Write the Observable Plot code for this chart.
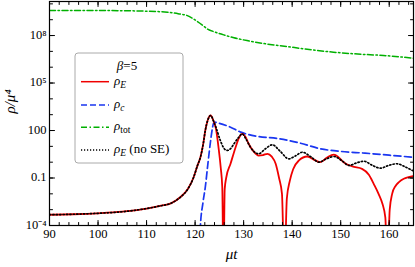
<!DOCTYPE html>
<html><head><meta charset="utf-8">
<script src="https://cdn.jsdelivr.net/npm/d3@7"></script>
<script src="https://cdn.jsdelivr.net/npm/@observablehq/plot@0.6"></script>
<style>
body{margin:0;background:#fff}
#chart{width:415px;height:267px}
#chart svg, #chart svg text, #chart svg tspan { font-family: "Liberation Serif", "Times New Roman", serif !important; }
</style>
</head><body><div id="chart"></div>
<script>
// ---- data (values as log10 of rho/mu^4) ----
const rhoE_t   = [90,95,100,105,110,113,115,117,118.5,119.7,120.5,121.1,121.7,122.1,122.6,123.2,123.8,124.3,124.8,125.3,125.6,125.85,126.1,126.4,127.3,128.3,129.0,129.7,130.4,131,132,133.1,134.0,134.9,135.8,136.6,137.3,137.9,138.4,138.9,139.5,140.2,141.4,143.1,144.8,145.8,147.2,148.6,149.6,150.6,152.4,154.4,155.8,156.8,157.8,158.6,159.2,159.6,160.1,160.6,161.3,162,163,164,165];
const rhoE_log = [-3.32,-3.29,-3.23,-3.13,-2.93,-2.75,-2.6,-2.2,-1.7,-0.95,-0.2,0.31,1.2,2.0,2.65,2.95,2.6,2.1,1.0,-0.4,-1.6,-7,-1.7,-1.0,-0.1,0.9,1.5,1.79,1.6,1.18,0.7,0.42,0.45,0.53,0.35,-0.1,-1.0,-2.0,-7,-2.3,-1.2,-0.45,0.11,0.36,0.11,0.0,0.3,0.48,0.3,0.0,-0.27,-0.42,-0.8,-1.37,-2.0,-2.63,-3.5,-7,-3.0,-2.0,-1.5,-1.26,-1.05,-0.95,-0.88];

const noSE_t   = [90,95,100,105,110,113,115,117,118.5,119.7,120.5,121.1,121.7,122.1,122.6,123.2,123.8,124.3,125.2,125.9,126.6,127.3,128,129,129.7,130.5,131.4,132.2,133.1,134.5,135.9,137.5,139.3,140.7,142.1,143.8,145.5,147.0,148.6,150.2,151.7,153.2,154.8,156.5,158.2,159.9,161.6,163.3,165];
const noSE_log = [-3.32,-3.29,-3.23,-3.13,-2.93,-2.75,-2.6,-2.2,-1.7,-0.95,-0.2,0.31,1.2,2.0,2.65,2.95,2.6,2.2,1.37,0.9,0.74,0.85,1.16,1.58,1.79,1.45,0.95,0.65,0.53,0.85,1.1,0.7,0.21,0.4,0.63,0.35,0.0,0.2,0.36,0.1,-0.21,-0.05,0.06,-0.2,-0.38,-0.2,-0.1,-0.3,-0.56];

const rhoC_t   = [120.8,121.1,121.6,122.1,122.6,123.2,123.6,123.9,125,127.3,129.4,133,137,141.7,145.8,150,155,160,165];
const rhoC_log = [-7,-4.0,-2.6,-1.58,-0.2,1.37,2.2,2.53,2.45,2.21,1.9,1.62,1.5,1.2,0.85,0.68,0.57,0.44,0.31];

const rhoTot_t   = [90,100,110,114.3,116.5,118.4,120.4,121.5,122.5,124.2,125.9,128,130.7,134,139,143.5,148.5,153.5,158.8,165];
const rhoTot_log = [9.58,9.58,9.54,9.47,9.38,9.26,8.9,8.66,8.42,8.21,8.04,7.86,7.68,7.5,7.3,7.12,6.95,6.83,6.74,6.57];

const xMajor = [90,100,110,120,130,140,150,160];
const xMinor = d3.range(90,165,2);
const yMajor = [1e-4,1e-1,1e2,1e5,1e8];
const yMajorLabels = ["10\u207B\u2074","0.1","100","10\u2075","10\u2078"];
const yMinor = d3.range(-4,11).map(e => 10**e);

const toRows = (t, l) => t.map((x,i) => ({x, y: 10**l[i]}));
const red = "#f00000", blue = "#1a36f0", green = "#00b000";
const xDom = [90,165], yDom = [1e-4, 10**10.15];

const tickShape = {draw(ctx, l){ ctx.moveTo(0,0); ctx.lineTo(0,-l); }};
const ticks = (vals, pos, len, rot) => Plot.vector(vals, {
  x: pos === "x" ? d => d : (rot === 90 ? () => xDom[0] : () => xDom[1]),
  y: pos === "y" ? d => d : (rot === 0 ? () => yDom[0] : () => yDom[1]),
  length: len, rotate: rot, anchor: "start", shape: tickShape, stroke: "black", strokeWidth: 1
});
const yMinorIn = yMinor.filter(v => v <= yDom[1]);

const plot = Plot.plot({
  width: 415, height: 267,
  marginLeft: 49, marginRight: 2, marginTop: 1, marginBottom: 42,
  style: {fontFamily: "Liberation Serif, Times New Roman, serif", fontSize: "12px", background: "white", color: "black"},
  x: {domain: xDom},
  y: {type: "log", domain: yDom},
  marks: [
    Plot.line(toRows(rhoTot_t, rhoTot_log), {x: "x", y: "y", stroke: green, strokeWidth: 1.5, strokeDasharray: "6,2.5,1.5,2.5", curve: "monotone-x", clip: true}),
    Plot.line(toRows(rhoC_t, rhoC_log), {x: "x", y: "y", stroke: blue, strokeWidth: 1.7, strokeDasharray: "7,3.5", curve: "monotone-x", clip: true}),
    Plot.line(toRows(rhoE_t, rhoE_log), {x: "x", y: "y", stroke: red, strokeWidth: 1.8, curve: "monotone-x", clip: true}),
    Plot.line(toRows(noSE_t, noSE_log), {x: "x", y: "y", stroke: "black", strokeWidth: 1.7, strokeDasharray: "1.2,2.2", curve: "monotone-x", clip: true}),
    Plot.frame({stroke: "black", strokeWidth: 1.2}),
    ticks(xMinor, "x", 3, 0), ticks(xMinor, "x", 3, 180),
    ticks(xMajor, "x", 5, 0), ticks(xMajor, "x", 5, 180),
    ticks(yMinorIn, "y", 3, 90), ticks(yMinorIn, "y", 3, -90),
    ticks(yMajor, "y", 5, 90), ticks(yMajor, "y", 5, -90),
    Plot.axisX({ticks: xMajor, tickSize: 0, tickPadding: 4, tickFormat: d => String(d), label: null, fontSize: 12.5}),
    Plot.axisY({ticks: yMajor, tickSize: 0, tickPadding: 3, tickFormat: d => yMajorLabels[yMajor.indexOf(d)], label: null, fontSize: 12.5, dy: -1}),
    Plot.text(["\u03BCt"], {frameAnchor: "bottom", dy: 33, fontStyle: "italic", fontSize: 15}),
    Plot.text(["\u03C1/\u03BC\u2074"], {frameAnchor: "left", dx: -39, rotate: -90, fontStyle: "italic", fontSize: 15})
  ]
});
document.getElementById("chart").appendChild(plot);

// ---- legend (inside the frame) ----
const svg = d3.select(plot);
const lg = svg.append("g").attr("font-size", 13).attr("text-anchor", "start");
lg.append("rect").attr("x", 75).attr("y", 53).attr("width", 108).attr("height", 110).attr("rx", 3)
  .attr("fill", "white").attr("stroke", "#aaaaaa").attr("stroke-width", 1);
const ttl = lg.append("text").attr("x", 127).attr("y", 69.5).attr("text-anchor", "middle");
ttl.append("tspan").attr("font-style", "italic").text("\u03B2");
ttl.append("tspan").text("=5");
const entries = [
  {y: 81.7, stroke: red, dash: null, w: 1.5, sub: "E", subItalic: true, extra: ""},
  {y: 105, stroke: blue, dash: "6,3", w: 1.5, sub: "c", subItalic: true, extra: ""},
  {y: 127.3, stroke: green, dash: "6,2.5,1.5,2.5", w: 1.5, sub: "tot", subItalic: false, extra: ""},
  {y: 150, stroke: "black", dash: "1.2,1.8", w: 1.3, sub: "E", subItalic: true, extra: " (no SE)"}
];
entries.forEach(e => {
  lg.append("line").attr("x1", 81).attr("x2", 109).attr("y1", e.y).attr("y2", e.y)
    .attr("stroke", e.stroke).attr("stroke-width", e.w).attr("stroke-dasharray", e.dash);
  const t = lg.append("text").attr("x", 114).attr("y", e.y + 3).attr("text-anchor", "start");
  t.append("tspan").attr("font-style", "italic").text("\u03C1");
  t.append("tspan").attr("font-style", e.subItalic ? "italic" : "normal").attr("font-size", 9.5).attr("dy", 3).text(e.sub);
  if (e.extra) t.append("tspan").attr("dy", -3).text(e.extra);
});
</script>
</body></html>
